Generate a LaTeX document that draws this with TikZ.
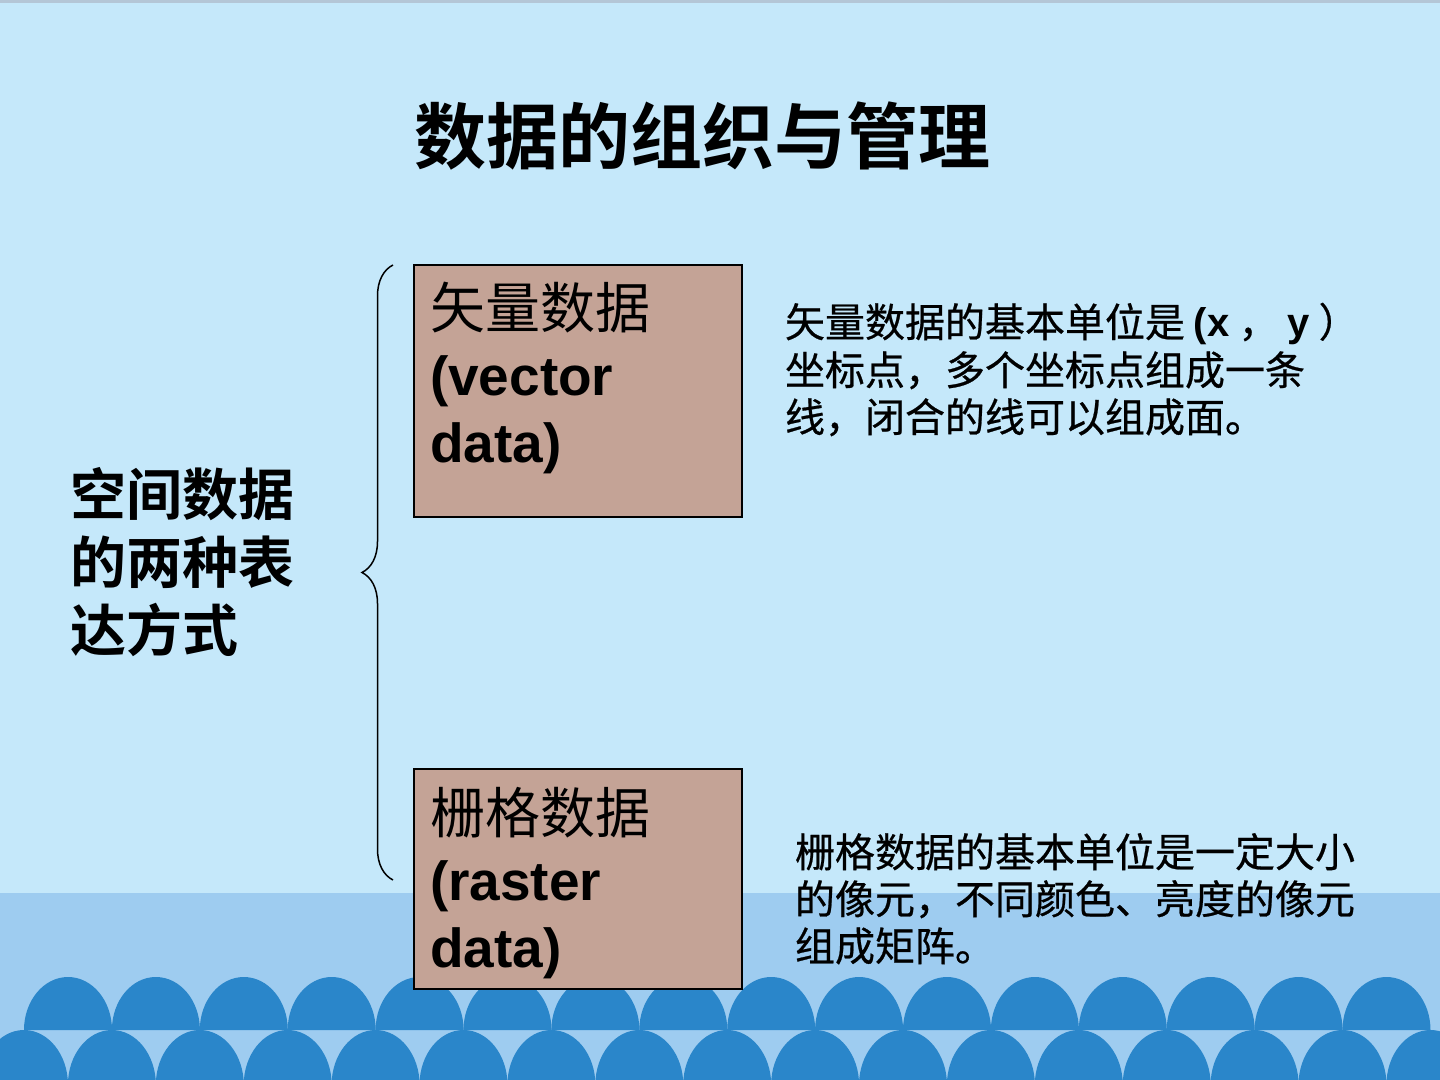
\documentclass[tikz,border=0pt]{standalone}
\usepackage{fontspec}
\setmainfont{Liberation Sans}
\newfontfamily\cjk{Noto Sans CJK SC}[BoldFont={Noto Sans CJK SC Bold}]
\newfontfamily\cjkthick{Noto Sans CJK SC}[FakeBold=0.6]
\usepackage{tikz}
\usetikzlibrary{decorations.pathreplacing}
\definecolor{skyBg}{HTML}{C5E8FA}
\definecolor{seaBand}{HTML}{9ECCF0}
\definecolor{waveBlue}{HTML}{2A86CA}
\definecolor{boxFill}{HTML}{C4A396}
\definecolor{topLine}{HTML}{B4C6D6}

\begin{document}
\begin{tikzpicture}[x=0.5pt, y=-0.5pt,
  every node/.style={inner sep=0pt, outer sep=0pt},
  ttl/.style={anchor=base, font=\cjk\bfseries\fontsize{36pt}{43pt}\selectfont},
  lbl/.style={anchor=base west, font=\cjk\bfseries\fontsize{28pt}{34pt}\selectfont},
  kind/.style={draw=black, line width=0.6pt, fill=boxFill, minimum width=164pt},
  kindcn/.style={anchor=base west, font=\cjk\fontsize{27.5pt}{33pt}\selectfont},
  kinden/.style={anchor=base west, font=\bfseries\fontsize{27.5pt}{33pt}\selectfont},
  desc/.style={anchor=base west, font=\cjkthick\fontsize{20pt}{24pt}\selectfont}]
\useasboundingbox (0,0) rectangle (1440,1080);
\clip (0,0) rectangle (1440,1080);
% background and sea
\fill[skyBg] (0,0) rectangle (1440,1080);
\fill[topLine] (0,0) rectangle (1440,3);
\fill[seaBand] (0,893) rectangle (1440,1080);
\foreach \i in {0,...,16}
  \fill[waveBlue] ({24+87.9*\i},1085) ellipse[x radius=44, y radius=55];
\foreach \i in {0,...,15}
  \fill[waveBlue] ({24+87.9*\i},1030) arc[start angle=180, end angle=360, x radius=44, y radius=53] -- cycle;
% title and left label
\node[ttl] (title) at (702,164) {数据的组织与管理};
\node[lbl] (lbl1) at (70,516) {空间数据};
\node[lbl] (lbl2) at (70,583) {的两种表};
\node[lbl] (lbl3) at (70,651) {达方式};
% brace
\coordinate (brb) at (393,880);
\coordinate (brt) at (393,265);
\draw[line width=0.75pt, decorate, decoration={brace, amplitude=15.5pt}] (brb) -- (brt);
% vector box
\node[kind, minimum height=126pt] (vec) at (578,391) {};
\node[kindcn] (vec1) at (430,329) {矢量数据};
\node[kinden] (vec2) at (430,396) {(vector};
\node[kinden] (vec3) at (430,463) {data)};
% raster box
\node[kind, minimum height=110pt] (ras) at (578,879) {};
\node[kindcn] (ras1) at (430,833) {栅格数据};
\node[kinden] (ras2) at (430,900) {(raster};
\node[kinden] (ras3) at (430,967) {data)};
% descriptions
\node[desc] (vd1) at (785,337) {矢量数据的基本单位是 {\rmfamily\bfseries (x} ， {\rmfamily\bfseries y} ）};
\node[desc] (vd2) at (785,385) {坐标点，多个坐标点组成一条};
\node[desc] (vd3) at (785,432) {线，闭合的线可以组成面。};
\node[desc] (rd1) at (795,867) {栅格数据的基本单位是一定大小};
\node[desc] (rd2) at (795,914) {的像元，不同颜色、亮度的像元};
\node[desc] (rd3) at (795,961) {组成矩阵。};
\end{tikzpicture}
\end{document}
